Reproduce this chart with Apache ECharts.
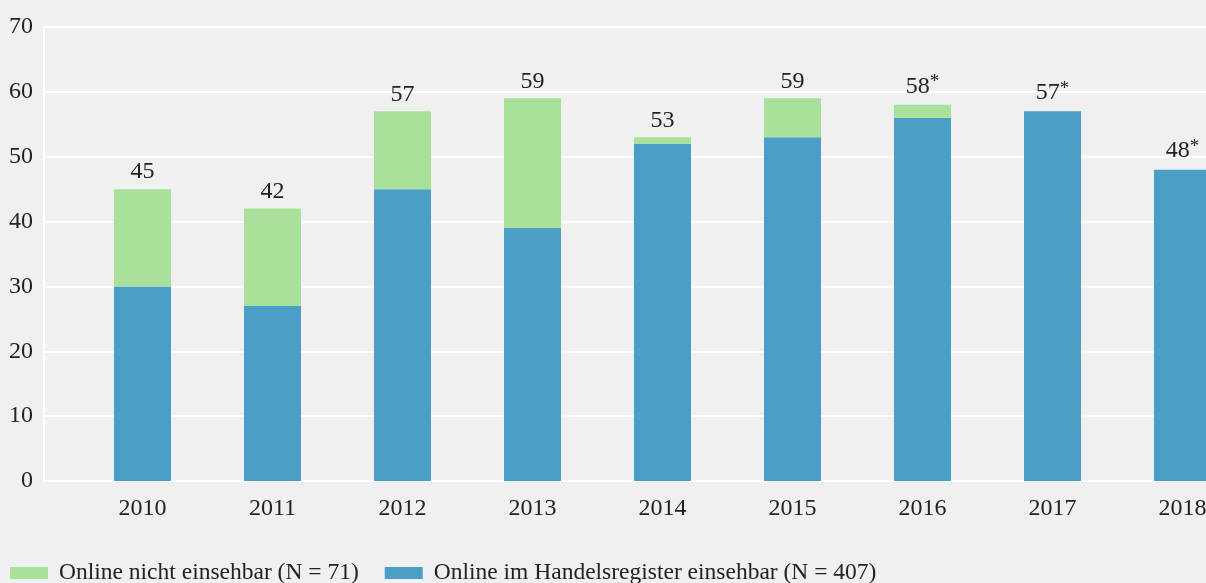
<!DOCTYPE html>
<html>
<head>
<meta charset="utf-8">
<script src="https://cdn.jsdelivr.net/npm/echarts@6/dist/echarts.min.js"></script>
<style>
  html, body { margin: 0; padding: 0; background: #f0f0f0; }
  #chart { width: 1206px; height: 583px; }
</style>
</head>
<body>
<div id="chart"></div>
<script>
var years = ['2010', '2011', '2012', '2013', '2014', '2015', '2016', '2017', '2018'];
// Online im Handelsregister einsehbar (N = 407)
var onlineValues = [30, 27, 45, 39, 52, 53, 56, 57, 48];
// Online nicht einsehbar (N = 71)
var offlineValues = [15, 15, 12, 20, 1, 6, 2, 0, 0];
var totalLabels = ['45', '42', '57', '59', '53', '59', '58*', '57*', '48*'];

var fontName = '"Liberation Serif", "DejaVu Serif", serif';
var textColor = '#222';

var chart = echarts.init(document.getElementById('chart'));

var option = {
    backgroundColor: '#f0f0f0',
    animation: false,
    textStyle: { fontFamily: fontName, color: textColor },
    legend: {
        left: 5,
        bottom: -7,
        itemWidth: 38,
        itemHeight: 12,
        itemGap: 26,
        icon: 'rect',
        selectedMode: false,
        textStyle: { fontFamily: fontName, fontSize: 23.5, color: textColor, padding: [0, 0, 0, 6] },
        data: ['Online nicht einsehbar (N = 71)', 'Online im Handelsregister einsehbar (N = 407)']
    },
    grid: [
        // Raster mit y-Achse und Hilfslinien
        { left: 44, right: 0, top: 27, bottom: 102, outerBoundsMode: 'none' },
        // Balkenraster, rechts über den Rand hinaus
        { left: 77.5, width: 1170, top: 27, bottom: 102, outerBoundsMode: 'none' }
    ],
    xAxis: [
        { gridIndex: 0, type: 'value', show: false, min: 0, max: 1 },
        {
            gridIndex: 1,
            type: 'category',
            data: years,
            axisLine: { show: false },
            axisTick: { show: false },
            axisLabel: { margin: 16, fontSize: 24, color: textColor, fontFamily: fontName }
        }
    ],
    yAxis: [
        {
            gridIndex: 0,
            type: 'value',
            min: 0,
            max: 70,
            interval: 10,
            axisLine: { show: true, lineStyle: { color: '#ffffff', width: 2 } },
            axisTick: { show: false },
            splitLine: { show: true, lineStyle: { color: '#ffffff', width: 2 } },
            axisLabel: { margin: 11, fontSize: 24, color: textColor, fontFamily: fontName }
        },
        { gridIndex: 1, type: 'value', min: 0, max: 70, show: false }
    ],
    series: [
        {
            name: 'Online im Handelsregister einsehbar (N = 407)',
            type: 'bar',
            xAxisIndex: 1,
            yAxisIndex: 1,
            stack: 'total',
            barWidth: 57,
            itemStyle: { color: '#4b9ec8' },
            data: onlineValues
        },
        {
            name: 'Online nicht einsehbar (N = 71)',
            type: 'bar',
            xAxisIndex: 1,
            yAxisIndex: 1,
            stack: 'total',
            barWidth: 57,
            itemStyle: { color: '#a9e19b' },
            label: {
                show: true,
                position: 'top',
                distance: 5,
                fontSize: 24,
                color: textColor,
                fontFamily: fontName,
                // Sternchen hochgestellt
                formatter: function (p) {
                    var t = totalLabels[p.dataIndex];
                    if (t.indexOf('*') > -1) {
                        return '{n|' + t.replace('*', '') + '}{s|*}';
                    }
                    return '{n|' + t + '}';
                },
                rich: {
                    n: { fontSize: 24, color: textColor, fontFamily: fontName },
                    s: { fontSize: 19, color: textColor, fontFamily: fontName, padding: [0, 0, 8, 0] }
                }
            },
            data: offlineValues
        }
    ]
};

chart.setOption(option);
</script>
</body>
</html>
